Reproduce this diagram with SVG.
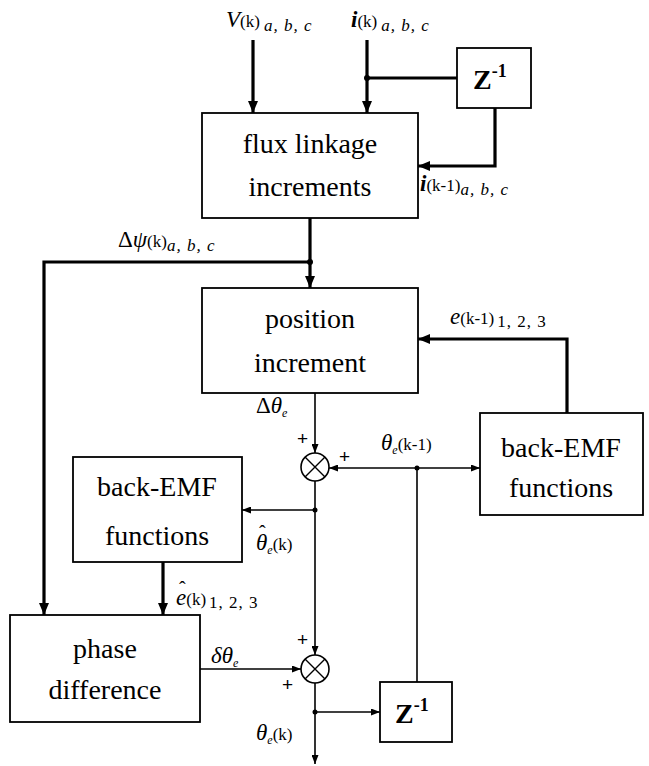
<svg xmlns="http://www.w3.org/2000/svg" width="649" height="766" viewBox="0 0 649 766">
<style>
.box{fill:#fff;stroke:#000;stroke-width:1.8}
.bt{font-family:'Liberation Serif','DejaVu Serif','Times New Roman',serif;font-size:28px;text-anchor:middle;fill:#000}
.zt{font-family:'Liberation Serif','DejaVu Serif',serif;font-size:28px;font-weight:bold;fill:#000}
.thick{fill:none;stroke:#000;stroke-width:3.2}
.thin{fill:none;stroke:#000;stroke-width:1.6}
.lb{font-family:'Liberation Serif','DejaVu Serif',serif;font-size:23px;font-style:italic;fill:#000}
.sm{font-size:17px;font-style:normal}
.sb{font-size:17px;font-style:italic}
.ee{font-size:12px;font-style:italic}
.hat{font-size:20px;font-style:normal}
.pl{font-family:'Liberation Sans','DejaVu Sans',sans-serif;font-size:19px;fill:#000}
</style>
<defs>
<marker id="ak" markerUnits="userSpaceOnUse" viewBox="0 0 12 10" refX="12" refY="5" markerWidth="12" markerHeight="10" orient="auto"><path d="M0,0 L12,5 L0,10 z" fill="#000"/></marker>
<marker id="an" markerUnits="userSpaceOnUse" viewBox="0 0 9 7" refX="9" refY="3.5" markerWidth="9" markerHeight="7" orient="auto"><path d="M0,0 L9,3.5 L0,7 z" fill="#000"/></marker>
</defs>

<g id="connectors">
<path class="thick" d="M253,40 V113" marker-end="url(#ak)"/>
<path class="thick" d="M367,40 V113" marker-end="url(#ak)"/>
<path class="thick" d="M367,78 H457"/>
<path class="thick" d="M495,108 V166 H418" marker-end="url(#ak)"/>
<path class="thick" d="M310,218 V288" marker-end="url(#ak)"/>
<path class="thick" d="M310,262 H44 V615" marker-end="url(#ak)"/>
<path class="thick" d="M567,413 V339 H418" marker-end="url(#ak)"/>
<path class="thick" d="M163,562 V615" marker-end="url(#ak)"/>
<path class="thin" d="M315,393 V453" marker-end="url(#an)"/>
<path class="thin" d="M417,468 H329" marker-end="url(#an)"/>
<path class="thin" d="M417,468 H480" marker-end="url(#an)"/>
<path class="thin" d="M417,468 V682"/>
<path class="thin" d="M315,481 V655" marker-end="url(#an)"/>
<path class="thin" d="M315,510 H242" marker-end="url(#an)"/>
<path class="thin" d="M200,669 H301" marker-end="url(#an)"/>
<path class="thin" d="M315,683 V764" marker-end="url(#an)"/>
<path class="thin" d="M315,712 H380" marker-end="url(#an)"/>
<circle cx="367" cy="78" r="3"/>
<circle cx="310" cy="262" r="3"/>
<circle cx="417" cy="468" r="2.5"/>
<circle cx="315" cy="510" r="2.5"/>
<circle cx="315" cy="712" r="2.5"/>
</g>

<g id="flux">
<rect class="box" x="202" y="113" width="216" height="105"/>
<text class="bt" x="310" y="153">flux linkage</text>
<text class="bt" x="310" y="196">increments</text>
</g>
<g id="z1">
<rect class="box" x="457" y="48" width="74" height="60"/>
<text class="zt" x="473" y="89">Z<tspan font-size="18" dy="-12">-1</tspan></text>
</g>
<g id="position">
<rect class="box" x="202" y="288" width="216" height="105"/>
<text class="bt" x="310" y="328">position</text>
<text class="bt" x="310" y="372">increment</text>
</g>
<g id="bemf-right">
<rect class="box" x="480" y="413" width="163" height="102"/>
<text class="bt" x="561" y="457">back-EMF</text>
<text class="bt" x="561" y="497">functions</text>
</g>
<g id="sum1">
<circle cx="315" cy="467" r="14" fill="#fff" stroke="#000" stroke-width="1.6"/>
<path d="M305,457 L325,477 M325,457 L305,477" stroke="#000" stroke-width="1.4"/>
</g>
<g id="bemf-left">
<rect class="box" x="73" y="457" width="169" height="105"/>
<text class="bt" x="157" y="496">back-EMF</text>
<text class="bt" x="157" y="545">functions</text>
</g>
<g id="phase">
<rect class="box" x="10" y="615" width="190" height="107"/>
<text class="bt" x="105" y="658">phase</text>
<text class="bt" x="105" y="699">difference</text>
</g>
<g id="sum2">
<circle cx="315" cy="669" r="14" fill="#fff" stroke="#000" stroke-width="1.6"/>
<path d="M305,659 L325,679 M325,659 L305,679" stroke="#000" stroke-width="1.4"/>
</g>
<g id="z2">
<rect class="box" x="380" y="682" width="72" height="60"/>
<text class="zt" x="395" y="723">Z<tspan font-size="18" dy="-12">-1</tspan></text>
</g>

<g id="labels">
<text class="lb" x="226" y="27">V<tspan class="sm">(k)</tspan><tspan class="sb" dx="4" dy="4" letter-spacing="1">a, b, c</tspan></text>
<text class="lb" x="351" y="27" font-weight="bold">i<tspan class="sm" font-weight="normal">(k)</tspan><tspan class="sb" font-weight="normal" dx="4" dy="4" letter-spacing="1">a, b, c</tspan></text>
<text class="lb" x="420" y="191" font-weight="bold">i<tspan class="sm" font-weight="normal">(k-1)</tspan><tspan class="sb" font-weight="normal" dy="4" letter-spacing="1">a, b, c</tspan></text>
<text class="lb" x="118" y="247"><tspan font-style="normal">Δ</tspan>ψ<tspan class="sm">(k)</tspan><tspan class="sb" dy="4" letter-spacing="1">a, b, c</tspan></text>
<text class="lb" x="450" y="324">e<tspan class="sm">(k-1)</tspan><tspan class="sm" dx="3" dy="3" letter-spacing="1">1, 2, 3</tspan></text>
<text class="lb" x="256" y="413"><tspan font-style="normal">Δ</tspan>θ<tspan class="ee" dy="4">e</tspan></text>
<text class="pl" x="297" y="445">+</text>
<text class="pl" x="339" y="463">+</text>
<text class="lb" x="381" y="450">θ<tspan class="ee" dy="4">e</tspan><tspan class="sm" dy="-4">(k-1)</tspan></text>
<text class="lb" x="259" y="540"><tspan class="hat">ˆ</tspan><tspan x="256" y="550">θ</tspan><tspan class="ee" dy="4">e</tspan><tspan class="sm" dy="-4">(k)</tspan></text>
<text class="lb" x="179" y="596"><tspan class="hat">ˆ</tspan><tspan x="176" y="605">e</tspan><tspan class="sm">(k)</tspan><tspan class="sm" dx="3" dy="3" letter-spacing="1">1, 2, 3</tspan></text>
<text class="lb" x="211" y="663">δθ<tspan class="ee" dy="4">e</tspan></text>
<text class="pl" x="297" y="646">+</text>
<text class="pl" x="282" y="691">+</text>
<text class="lb" x="256" y="740">θ<tspan class="ee" dy="4">e</tspan><tspan class="sm" dy="-4">(k)</tspan></text>
</g>
</svg>
